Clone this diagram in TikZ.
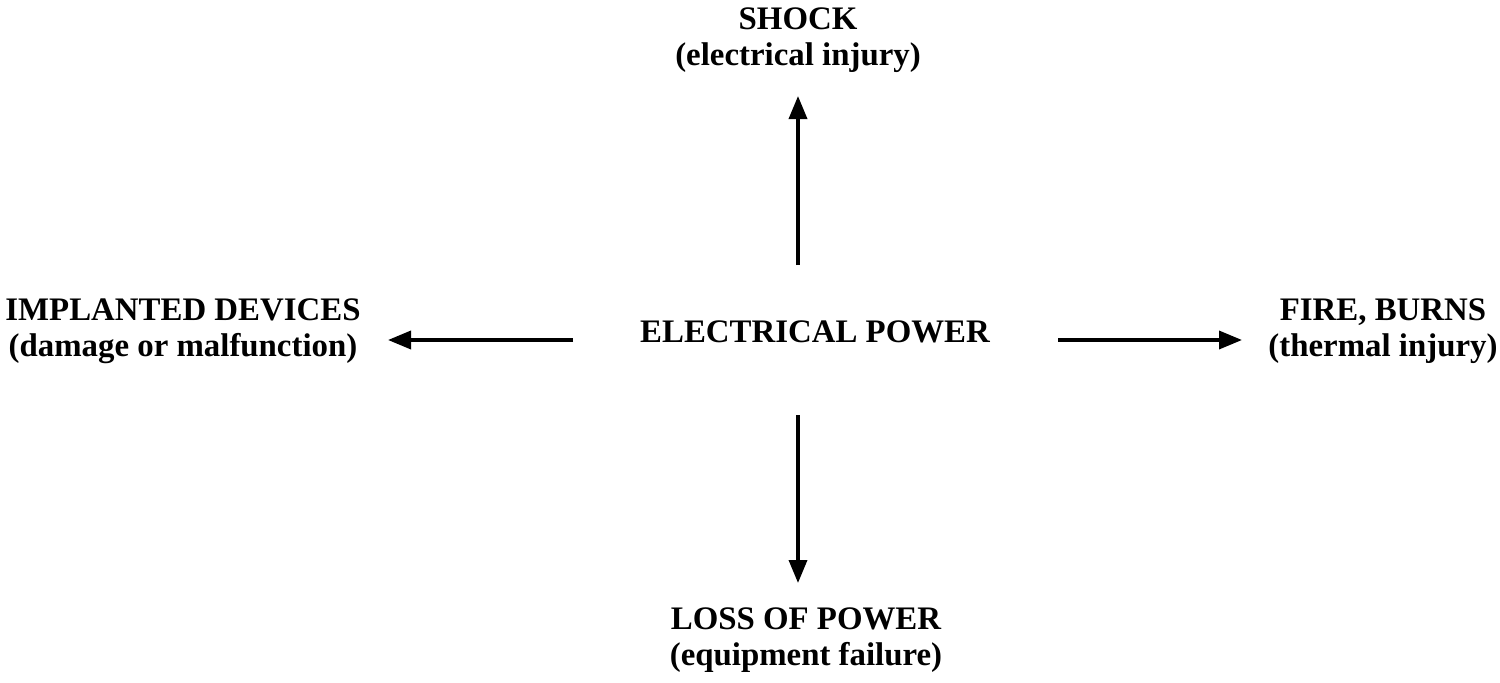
\documentclass[tikz,border=0pt]{standalone}
\usepackage{fontspec}
\setmainfont{Liberation Serif}
\usetikzlibrary{arrows.meta}
\begin{document}
\begin{tikzpicture}[
  lbl/.style={font=\bfseries\fontsize{18.7}{20.5}\selectfont, align=center, inner sep=0pt},
  arr/.style={line width=2pt, -{Triangle[length=0.46cm,width=0.36cm]}}
]
\useasboundingbox (0,0) rectangle (30,13.64);
\node[lbl] (shock) at (15.96,12.84) {SHOCK\\(electrical injury)};
\node[lbl] (ep) at (16.3,7.0) {ELECTRICAL POWER};
\node[lbl] (imp) at (3.66,7.02) {IMPLANTED DEVICES\\(damage or malfunction)};
\node[lbl] (fire) at (27.66,7.02) {FIRE, BURNS\\(thermal injury)};
\node[lbl] (loss) at (16.12,0.84) {LOSS OF POWER\\(equipment failure)};
\coordinate (uS) at (15.96,8.34);
\coordinate (uE) at (15.96,11.72);
\coordinate (dS) at (15.96,5.34);
\coordinate (dE) at (15.96,1.98);
\coordinate (lS) at (11.46,6.84);
\coordinate (lE) at (7.76,6.84);
\coordinate (rS) at (21.16,6.84);
\coordinate (rE) at (24.84,6.84);
\draw[arr] (uS) -- (uE);
\draw[arr] (dS) -- (dE);
\draw[arr] (lS) -- (lE);
\draw[arr] (rS) -- (rE);
\end{tikzpicture}
\end{document}
